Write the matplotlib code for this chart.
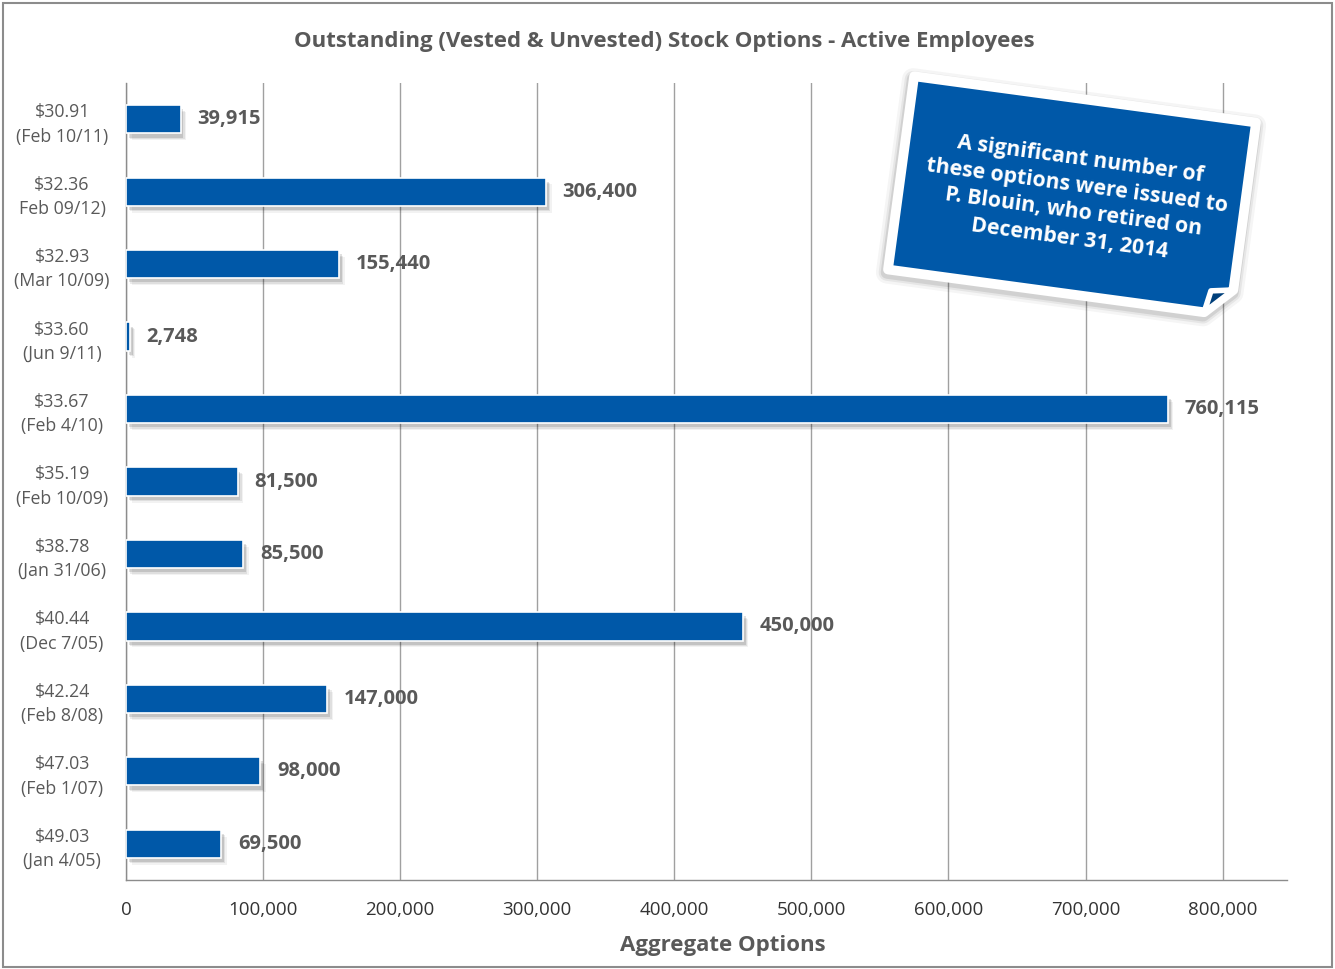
import matplotlib.pyplot as plt
import matplotlib.patheffects as pe
from matplotlib.patches import Polygon, Rectangle
from matplotlib.ticker import FuncFormatter
import numpy as np

plt.rcParams['font.family'] = ['Open Sans', 'DejaVu Sans']

# strike price / grant date, top to bottom
grants = ['$30.91\n(Feb 10/11)', '$32.36\nFeb 09/12)', '$32.93\n(Mar 10/09)',
          '$33.60\n(Jun 9/11)', '$33.67\n(Feb 4/10)', '$35.19\n(Feb 10/09)',
          '$38.78\n(Jan 31/06)', '$40.44\n(Dec 7/05)', '$42.24\n(Feb 8/08)',
          '$47.03\n(Feb 1/07)', '$49.03\n(Jan 4/05)']
options = [39915, 306400, 155440, 2748, 760115, 81500, 85500, 450000, 147000, 98000, 69500]
xticks = [0, 100000, 200000, 300000, 400000, 500000, 600000, 700000, 800000]

title = 'Outstanding (Vested & Unvested) Stock Options - Active Employees'
note = 'A significant number of\nthese options were issued to\nP. Blouin, who retired on\nDecember 31, 2014'

BLUE = '#0058A8'
GREY = '#595959'
W, H = 1335, 969

fig = plt.figure(figsize=(W / 100, H / 100), dpi=100)
ax = fig.add_axes([126 / W, 1 - 880 / H, (1287 - 126) / W, (880 - 83) / H])

y = np.arange(len(options))
bars = ax.barh(y, options, height=0.39, color=BLUE, edgecolor='white', linewidth=1.2, zorder=3)
soft = [pe.SimplePatchShadow(offset=(o, -o - 1), shadow_rgbFace='#000000', alpha=a)
        for o, a in [(4, 0.05), (3, 0.08), (2, 0.12)]]
for b in bars:
    b.set_path_effects(soft + [pe.Normal()])

for yi, v in zip(y, options):
    ax.annotate(f'{v:,}', (v, yi), xytext=(12, 0), textcoords='offset points',
                va='center', ha='left', fontsize=14.5, fontweight='bold', color=GREY)

ax.set_xlim(0, 847000)
ax.set_ylim(len(options) - 0.5, -0.5)
ax.set_yticks(y)
ax.set_yticklabels(grants, ha='center', multialignment='center', linespacing=1.45)
ax.set_xticks(xticks)
ax.xaxis.set_major_formatter(FuncFormatter(lambda v, p: f'{int(v):,}'))
ax.tick_params(axis='x', length=0, pad=15, labelsize=13.5, labelcolor='#333333')
ax.tick_params(axis='y', length=0, pad=46, labelsize=12.8, labelcolor=GREY)
ax.grid(axis='x', color='#a0a0a0', linewidth=1, zorder=0)
for s in ['top', 'right']:
    ax.spines[s].set_visible(False)
for s in ['left', 'bottom']:
    ax.spines[s].set_color('#8c8c8c')
    ax.spines[s].set_linewidth(1)

fig.text(664 / W, 1 - 42 / H, title, ha='center', va='center',
         fontsize=16, fontweight='bold', color=GREY)
fig.text(723 / W, 1 - 945 / H, 'Aggregate Options', ha='center', va='center',
         fontsize=16, fontweight='bold', color=GREY)

# border round the whole chart
fig.add_artist(Rectangle((0.002, 0.002), 0.996, 0.995, transform=fig.transFigure,
                         fill=False, edgecolor='#8c8c8c', linewidth=1.5))

# tilted sticky note, drawn in pixel space on an overlay
ov = fig.add_axes([0, 0, 1, 1], zorder=10)
ov.set_xlim(0, W)
ov.set_ylim(H, 0)
ov.axis('off')

cx, cy, bw, bh, ang, c = 1072, 196, 345, 195, np.deg2rad(7.7), 26


def place(pts):
    pts = np.asarray(pts, float)
    r = np.array([[np.cos(ang), -np.sin(ang)], [np.sin(ang), np.cos(ang)]])
    return pts @ r.T + [cx, cy]


hw, hh = bw / 2, bh / 2
outline = [(-hw, -hh), (hw, -hh), (hw, hh - c), (hw - c, hh), (-hw, hh)]
card = place(outline)
# soft shadow: a few widening translucent strokes under the card
for lw, a in [(16, 0.04), (12, 0.06), (9, 0.09)]:
    ov.add_patch(Polygon(card + [-1, 3], closed=True, facecolor='#000000', alpha=a,
                         edgecolor='#000000', linewidth=lw, joinstyle='round'))
ov.add_patch(Polygon(card, closed=True, facecolor=BLUE, edgecolor='white', linewidth=7,
                     joinstyle='round'))
flap = place([(hw, hh - c), (hw - c, hh), (hw - c * 0.85, hh - c * 0.85)])
ov.add_patch(Polygon(flap, closed=True, facecolor='#003f7a', edgecolor='white', linewidth=4,
                     joinstyle='round'))
ov.text(cx + 3, cy + 3, note, ha='center', va='center', rotation=-7.7, rotation_mode='anchor',
        fontsize=15.3, fontweight='bold', color='white', linespacing=1.35)

fig.savefig('out.png', dpi=100)
